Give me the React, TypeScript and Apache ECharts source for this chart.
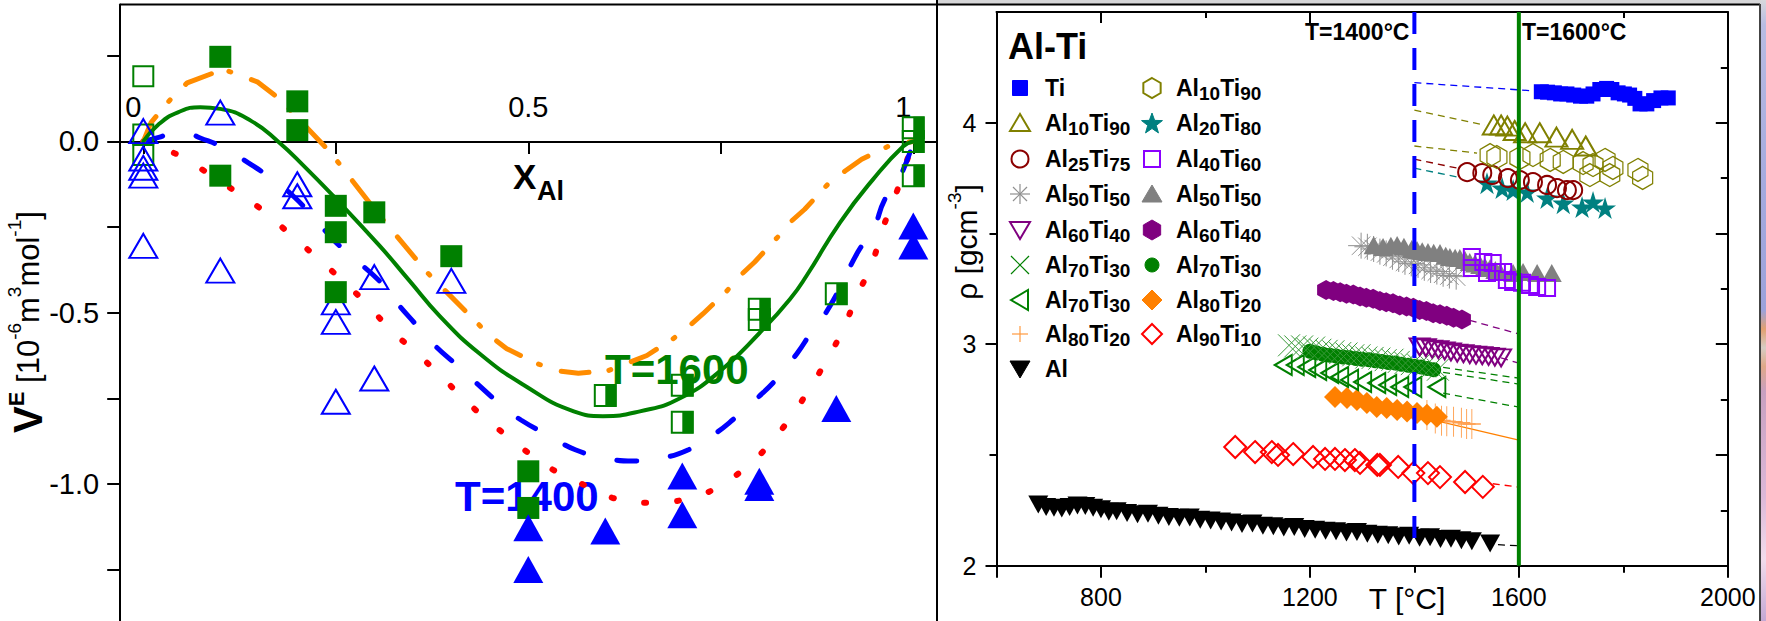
import React, { useEffect, useRef } from "react";
import * as echarts from "echarts";

const FONT = '"Liberation Sans", Arial, Helvetica, sans-serif';

// ================= Left panel: V^E vs X_Al =================
const leftXTicks = [0, 0.25, 0.5, 0.75, 1];
const leftXLabels = [0, 0.5, 1];
const leftYTicks = [0.25, 0, -0.25, -0.5, -0.75, -1, -1.25];
const leftYLabels = [0, -0.5, -1];

const calc1600DashDot = [[0,0],[0.01,0.055],[0.037,0.127],[0.057,0.171],[0.096,0.204],[0.1,0.214],[0.148,0.174],[0.178,0.122],[0.243,-0.032],[0.303,-0.206],[0.368,-0.381],[0.428,-0.517],[0.45,-0.567],[0.472,-0.605],[0.511,-0.648],[0.535,-0.669],[0.565,-0.677],[0.604,-0.669],[0.628,-0.648],[0.654,-0.625],[0.688,-0.576],[0.708,-0.541],[0.727,-0.503],[0.758,-0.436],[0.775,-0.392],[0.794,-0.352],[0.824,-0.279],[0.84,-0.236],[0.859,-0.198],[0.889,-0.125],[0.911,-0.087],[0.933,-0.052],[0.972,-0.009],[1,0]];
const calc1600Solid = [[0,0],[0.02,0.05],[0.045,0.085],[0.074,0.1],[0.1,0.095],[0.14,0.06],[0.175,0],[0.21,-0.075],[0.247,-0.16],[0.307,-0.305],[0.345,-0.405],[0.385,-0.51],[0.437,-0.62],[0.494,-0.711],[0.559,-0.788],[0.597,-0.802],[0.645,-0.788],[0.697,-0.75],[0.753,-0.663],[0.8,-0.56],[0.84,-0.46],[0.862,-0.39],[0.905,-0.236],[0.948,-0.11],[0.987,-0.014],[1,0]];
const calc1400Dashed = [[0,0],[0.02,0.012],[0.035,0.02],[0.06,0.02],[0.074,0.01],[0.104,-0.018],[0.136,-0.062],[0.165,-0.106],[0.195,-0.16],[0.22,-0.22],[0.25,-0.294],[0.272,-0.338],[0.31,-0.415],[0.327,-0.465],[0.353,-0.532],[0.376,-0.59],[0.407,-0.653],[0.433,-0.706],[0.465,-0.77],[0.491,-0.814],[0.528,-0.86],[0.561,-0.9],[0.6,-0.924],[0.636,-0.933],[0.674,-0.924],[0.708,-0.9],[0.74,-0.857],[0.768,-0.808],[0.797,-0.75],[0.823,-0.692],[0.849,-0.619],[0.868,-0.555],[0.892,-0.48],[0.928,-0.323],[0.948,-0.256],[0.963,-0.169],[0.983,-0.102],[1,0]];
const calc1400Dotted = [[0,0],[0.011,-0.014],[0.044,-0.038],[0.08,-0.087],[0.119,-0.145],[0.156,-0.203],[0.19,-0.27],[0.223,-0.334],[0.256,-0.401],[0.29,-0.474],[0.32,-0.547],[0.353,-0.614],[0.387,-0.686],[0.42,-0.76],[0.455,-0.828],[0.489,-0.89],[0.528,-0.953],[0.567,-0.997],[0.61,-1.041],[0.656,-1.055],[0.7,-1.047],[0.74,-1.017],[0.777,-0.962],[0.807,-0.9],[0.837,-0.817],[0.863,-0.73],[0.887,-0.64],[0.908,-0.552],[0.926,-0.455],[0.946,-0.358],[0.96,-0.256],[0.976,-0.163],[0.991,-0.061],[1,0]];

const exp1600Filled = [[0.1,0.247],[0.1,-0.1],[0.2,0.117],[0.2,0.033],[0.25,-0.188],[0.25,-0.265],[0.25,-0.44],[0.3,-0.207],[0.4,-0.335],[0.5,-0.963],[0.5,-1.07]];
const exp1600Half = [[0.6,-0.742],[0.7,-0.712],[0.7,-0.82],[0.8,-0.49],[0.8,-0.52],[0.9,-0.445],[1,0.04],[1,0.0],[1,-0.1]];
const exp1600Open = [[0,0.19],[0,0.02],[0,-0.04]];
const exp1400Open = [[0,0.03],[0,-0.05],[0,-0.077],[0,-0.1],[0,-0.305],[0.1,0.084],[0.1,-0.377],[0.2,-0.125],[0.2,-0.16],[0.25,-0.47],[0.25,-0.527],[0.25,-0.76],[0.3,-0.396],[0.3,-0.692],[0.4,-0.407]];
const exp1400Filled = [[0.5,-1.128],[0.5,-1.25],[0.6,-1.137],[0.7,-0.977],[0.7,-1.09],[0.8,-0.992],[0.8,-1.01],[0.9,-0.78],[1,-0.247],[1,-0.305]];

// ================= Right panel: density vs T =================
const rightXTickMajor = [600, 800, 1200, 1600, 2000];
const rightXLabels = [800, 1200, 1600, 2000];
const rightXTickMinor = [1000, 1400, 1800];
const rightYTickMajor = [2, 3, 4];
const rightYTickMinor = [2.5, 3.5];
const rightYTickRightMajor = [2, 2.5, 3, 3.5, 4, 4.5];
const rightYTickRightMinor = [2.25, 2.75, 3.25, 3.75, 4.25];

const tiData = [[1643,4.14],[1655,4.138],[1668,4.135],[1680,4.13],[1692,4.13],[1705,4.125],[1718,4.12],[1730,4.12],[1742,4.13],[1755,4.15],[1768,4.155],[1778,4.15],[1790,4.135],[1802,4.13],[1812,4.125],[1822,4.11],[1832,4.085],[1845,4.085],[1858,4.1],[1872,4.112],[1886,4.112]];
const al10ti90Tri = [[1552,3.99],[1566,3.99],[1578,3.985],[1592,3.965],[1612,3.955],[1640,3.955],[1672,3.935],[1702,3.925],[1728,3.895]];
const al10ti90Hex = [[1545,3.854],[1558,3.845],[1602,3.841],[1627,3.854],[1660,3.832],[1685,3.823],[1723,3.818],[1736,3.764],[1742,3.809],[1765,3.832],[1774,3.764],[1780,3.796],[1828,3.787],[1837,3.751]];
const al25ti75 = [[1501,3.777],[1530,3.773],[1549,3.764],[1579,3.75],[1602,3.741],[1627,3.732],[1654,3.719],[1673,3.705],[1692,3.696],[1704,3.696]];
const al20ti80 = [[1539,3.727],[1568,3.705],[1589,3.696],[1616,3.687],[1654,3.66],[1685,3.637],[1721,3.619],[1742,3.642],[1765,3.615]];
const al50ti50Ast = [[1298,3.445],[1310,3.44],[1322,3.43],[1334,3.418],[1346,3.41],[1358,3.395],[1370,3.385],[1382,3.372],[1394,3.365],[1407,3.358],[1419,3.345],[1431,3.335],[1443,3.328],[1455,3.318],[1467,3.31],[1480,3.305]];
const al50ti50Tri = [[1322,3.447],[1340,3.439],[1355,3.445],[1367,3.448],[1380,3.44],[1395,3.43],[1405,3.425],[1415,3.42],[1426,3.416],[1437,3.413],[1449,3.412],[1460,3.4],[1468,3.394],[1478,3.39],[1487,3.389],[1497,3.38],[1506,3.371],[1516,3.365],[1526,3.358],[1535,3.35],[1545,3.344],[1555,3.335],[1564,3.326],[1589,3.321],[1608,3.326],[1635,3.321],[1663,3.321]];
const al40ti60 = [[1510,3.394],[1510,3.344],[1532,3.371],[1539,3.321],[1550,3.367],[1558,3.326],[1570,3.326],[1577,3.29],[1589,3.281],[1606,3.277],[1621,3.267],[1635,3.258],[1654,3.254]];
const al60ti40Hex = [[1231,3.245],[1245,3.24],[1258,3.235],[1270,3.228],[1283,3.225],[1296,3.215],[1308,3.21],[1321,3.205],[1334,3.195],[1346,3.19],[1359,3.185],[1372,3.175],[1385,3.17],[1398,3.165],[1410,3.155],[1423,3.15],[1436,3.14],[1449,3.135],[1462,3.128],[1475,3.12],[1491,3.112]];
const al60ti40Tri = [[1410,2.988],[1422,2.984],[1434,2.978],[1446,2.975],[1458,2.97],[1470,2.965],[1482,2.96],[1494,2.957],[1506,2.953],[1518,2.95],[1530,2.948],[1542,2.945],[1554,2.942],[1566,2.938]];
const al70ti30X = [[1160,2.995],[1172,2.99],[1185,2.99],[1195,2.98],[1208,2.985],[1220,2.975],[1232,2.97],[1245,2.968],[1258,2.96],[1270,2.958],[1283,2.95],[1295,2.95],[1308,2.94],[1320,2.938],[1333,2.935],[1345,2.928],[1358,2.93],[1370,2.92],[1383,2.915],[1395,2.91],[1408,2.905],[1420,2.9],[1433,2.895],[1445,2.885]];
const al70ti30Circ = [[1200,2.968],[1212,2.962],[1225,2.955],[1238,2.95],[1250,2.947],[1263,2.942],[1275,2.94],[1288,2.935],[1300,2.932],[1313,2.93],[1325,2.925],[1338,2.922],[1350,2.918],[1363,2.915],[1375,2.91],[1388,2.905],[1400,2.9],[1413,2.897],[1425,2.89],[1437,2.885]];
const al70ti30Left = [[1149,2.906],[1172,2.906],[1194,2.897],[1215,2.884],[1238,2.87],[1257,2.852],[1276,2.839],[1301,2.829],[1328,2.825],[1349,2.816],[1372,2.807],[1397,2.807],[1443,2.807]];
const al80ti20Dia = [[1248,2.762],[1271,2.757],[1290,2.748],[1309,2.735],[1328,2.717],[1347,2.712],[1367,2.703],[1386,2.696],[1405,2.69],[1424,2.681],[1443,2.672]];
const al80ti20Plus = [[1424,2.68],[1440,2.665],[1452,2.655],[1462,2.652],[1475,2.65],[1490,2.645],[1500,2.64],[1510,2.64]];
const al90ti10 = [[1057,2.536],[1095,2.513],[1127,2.513],[1139,2.5],[1168,2.504],[1206,2.491],[1229,2.482],[1248,2.482],[1267,2.477],[1286,2.477],[1296,2.464],[1329,2.455],[1334,2.455],[1369,2.446],[1398,2.418],[1426,2.418],[1449,2.4],[1497,2.378],[1531,2.356]];
const alPure = [[680,2.276],[695,2.265],[710,2.262],[725,2.258],[740,2.265],[755,2.272],[770,2.27],[785,2.262],[800,2.255],[815,2.244],[830,2.246],[850,2.238],[870,2.232],[890,2.235],[910,2.226],[930,2.22],[950,2.216],[970,2.218],[990,2.208],[1010,2.204],[1030,2.2],[1050,2.195],[1070,2.188],[1090,2.19],[1110,2.18],[1130,2.178],[1150,2.172],[1170,2.175],[1190,2.166],[1210,2.162],[1230,2.158],[1250,2.155],[1270,2.15],[1290,2.152],[1310,2.144],[1330,2.14],[1350,2.137],[1370,2.132],[1390,2.135],[1410,2.126],[1430,2.128],[1450,2.12],[1470,2.122],[1490,2.115],[1510,2.11],[1545,2.1]];

const fitTi = [[1400,4.181],[1621,4.145]];
const fitAl10Tri = [[1400,4.057],[1535,3.989]];
const fitAl10Hex = [[1400,3.895],[1520,3.863]];
const fitAl25 = [[1400,3.836],[1482,3.795]];
const fitAl20 = [[1400,3.795],[1482,3.755]];
const fitAl40 = [[1400,3.433],[1493,3.366]];
const fitAl60Hex = [[1506,3.108],[1600,3.046]];
const fitAl60Tri = [[1566,2.938],[1600,2.915]];
const fitAl70X = [[1455,2.895],[1600,2.847]];
const fitAl70Circ = [[1455,2.873],[1600,2.82]];
const fitAl70Left = [[1455,2.779],[1600,2.716]];
const fitAl80Plus = [[1449,2.65],[1600,2.567]];
const fitAl90 = [[1550,2.37],[1600,2.355]];
const fitAl = [[1560,2.095],[1600,2.09]];
const ref1400 = [[1400,4.5],[1400,2.09]];
const ref1600 = [[1600,4.5],[1600,2.0]];

const legendCol1 = [
  { parts: ["Ti"], kind: "square", color: "#0000FF", filled: true },
  { parts: ["Al", "10", "Ti", "90"], kind: "triUp", color: "#808000", filled: false },
  { parts: ["Al", "25", "Ti", "75"], kind: "circle", color: "#8B0000", filled: false },
  { parts: ["Al", "50", "Ti", "50"], kind: "asterisk", color: "#909090", filled: false },
  { parts: ["Al", "60", "Ti", "40"], kind: "triDown", color: "#800080", filled: false },
  { parts: ["Al", "70", "Ti", "30"], kind: "x", color: "#008000", filled: false },
  { parts: ["Al", "70", "Ti", "30"], kind: "triLeft", color: "#008000", filled: false },
  { parts: ["Al", "80", "Ti", "20"], kind: "plus", color: "#FF9A40", filled: false },
  { parts: ["Al"], kind: "triDown", color: "#000000", filled: true },
];
const legendCol2 = [
  { parts: ["Al", "10", "Ti", "90"], kind: "hex", color: "#808000", filled: false },
  { parts: ["Al", "20", "Ti", "80"], kind: "star", color: "#008080", filled: true },
  { parts: ["Al", "40", "Ti", "60"], kind: "square", color: "#8B00FF", filled: false },
  { parts: ["Al", "50", "Ti", "50"], kind: "triUp", color: "#808080", filled: true },
  { parts: ["Al", "60", "Ti", "40"], kind: "hex", color: "#800080", filled: true },
  { parts: ["Al", "70", "Ti", "30"], kind: "circle", color: "#008000", filled: true },
  { parts: ["Al", "80", "Ti", "20"], kind: "diamond", color: "#FF8000", filled: true },
  { parts: ["Al", "90", "Ti", "10"], kind: "diamond", color: "#FF0000", filled: false },
];

const HEX = "path://M0,-1 L0.866,-0.5 L0.866,0.5 L0,1 L-0.866,0.5 L-0.866,-0.5 Z";
const STAR = "path://M0,-1 L0.2245,-0.309 L0.951,-0.309 L0.363,0.118 L0.588,0.809 L0,0.382 L-0.588,0.809 L-0.363,0.118 L-0.951,-0.309 L-0.2245,-0.309 Z";
const AST = "path://M-1,0 L1,0 M0,-1 L0,1 M-0.707,-0.707 L0.707,0.707 M-0.707,0.707 L0.707,-0.707";
const XSYM = "path://M-1,-1 L1,1 M-1,1 L1,-1";
const PLUS = "path://M-1,0 L1,0 M0,-1 L0,1";

function richParts(parts: string[]) {
  return parts.map((p, i) => (i % 2 === 0 ? `{b|${p}}` : `{s|${p}}`)).join("");
}

function glyph(kind: string, cx: number, cy: number, color: string, filled: boolean): any[] {
  const st = filled ? { fill: color, stroke: color, lineWidth: 1 } : { fill: "none", stroke: color, lineWidth: 2 };
  const thin = { stroke: color, lineWidth: 1.2 };
  const poly = (pts: number[][]) => ({ type: "polygon", shape: { points: pts }, style: st });
  const ln = (x1: number, y1: number, x2: number, y2: number) => ({ type: "line", shape: { x1, y1, x2, y2 }, style: thin });
  switch (kind) {
    case "square":
      return filled
        ? [{ type: "rect", shape: { x: cx - 7.5, y: cy - 7.5, width: 15, height: 15 }, style: st }]
        : [{ type: "rect", shape: { x: cx - 8, y: cy - 8, width: 16, height: 16 }, style: st }];
    case "circle":
      return [{ type: "circle", shape: { cx, cy, r: filled ? 7 : 8.5 }, style: st }];
    case "triUp":
      return [poly([[cx, cy - 9], [cx + 10, cy + 8], [cx - 10, cy + 8]])];
    case "triDown":
      return [poly([[cx - 10, cy - 8], [cx + 10, cy - 8], [cx, cy + 9]])];
    case "triLeft":
      return [poly([[cx - 9, cy], [cx + 8, cy - 10], [cx + 8, cy + 10]])];
    case "diamond":
      return [poly([[cx, cy - 10], [cx + 10, cy], [cx, cy + 10], [cx - 10, cy]])];
    case "hex":
      return [poly([[cx, cy - 10], [cx + 8.66, cy - 5], [cx + 8.66, cy + 5], [cx, cy + 10], [cx - 8.66, cy + 5], [cx - 8.66, cy - 5]])];
    case "star": {
      const pts: number[][] = [];
      for (let k = 0; k < 10; k++) {
        const a = -Math.PI / 2 + (k * Math.PI) / 5;
        const r = k % 2 === 0 ? 11 : 4.5;
        pts.push([cx + r * Math.cos(a), cy + 1 + r * Math.sin(a)]);
      }
      return [poly(pts)];
    }
    case "asterisk":
      return [ln(cx - 10, cy, cx + 10, cy), ln(cx, cy - 10, cx, cy + 10), ln(cx - 7, cy - 7, cx + 7, cy + 7), ln(cx - 7, cy + 7, cx + 7, cy - 7)];
    case "x":
      return [ln(cx - 9, cy - 9, cx + 9, cy + 9), ln(cx - 9, cy + 9, cx + 9, cy - 9)];
    case "plus":
      return [ln(cx - 8, cy, cx + 8, cy), ln(cx, cy - 8, cx, cy + 8)];
  }
  return [];
}

const legendRich = {
  b: { fontSize: 23, fontWeight: "bold", fontFamily: FONT, fill: "#000", lineHeight: 30 },
  s: { fontSize: 19, fontWeight: "bold", fontFamily: FONT, fill: "#000", lineHeight: 19, verticalAlign: "bottom" },
};

function buildGraphic() {
  const g: any[] = [];
  const blk = { stroke: "#000", lineWidth: 2 };
  g.push({ type: "rect", shape: { x: 938, y: 0, width: 828, height: 4 }, style: { fill: "#d6d6d8" }, silent: true });
  g.push({ type: "line", shape: { x1: 120, y1: 4.5, x2: 1760, y2: 4.5 }, style: blk, silent: true });
  g.push({ type: "line", shape: { x1: 937, y1: 0, x2: 937, y2: 621 }, style: blk, silent: true });
  g.push({ type: "line", shape: { x1: 1760, y1: 4, x2: 1760, y2: 621 }, style: { stroke: "#444", lineWidth: 2 }, silent: true });
  g.push({
    type: "rect",
    shape: { x: 1761, y: 0, width: 5, height: 621 },
    style: {
      fill: new echarts.graphic.LinearGradient(0, 0, 0, 1, [
        { offset: 0, color: "#d8d8dc" },
        { offset: 0.04, color: "#b8bce2" },
        { offset: 0.3, color: "#a4aade" },
        { offset: 0.5, color: "#9ca2da" },
        { offset: 0.53, color: "#e2a070" },
        { offset: 0.56, color: "#d6ccc4" },
        { offset: 0.59, color: "#e0a888" },
        { offset: 0.63, color: "#c8a0c0" },
        { offset: 0.8, color: "#dcb8d8" },
        { offset: 0.9, color: "#f2dcec" },
        { offset: 1, color: "#c4a8d4" },
      ]),
    },
    silent: true,
  });

  // left panel texts
  g.push({ type: "text", x: 605, y: 369, style: { text: "T=1600", fontSize: 42, fontWeight: "bold", fontFamily: FONT, fill: "#008000", align: "left", verticalAlign: "middle" } });
  g.push({ type: "text", x: 455, y: 496, style: { text: "T=1400", fontSize: 42, fontWeight: "bold", fontFamily: FONT, fill: "#0000FF", align: "left", verticalAlign: "middle" } });
  g.push({ type: "text", x: 513, y: 176, style: { text: "X", fontSize: 35, fontWeight: "bold", fontFamily: FONT, fill: "#000", align: "left", verticalAlign: "middle" } });
  g.push({ type: "text", x: 537, y: 191, style: { text: "Al", fontSize: 27, fontWeight: "bold", fontFamily: FONT, fill: "#000", align: "left", verticalAlign: "middle" } });
  g.push({
    type: "text",
    x: 28,
    y: 322,
    rotation: Math.PI / 2,
    style: {
      text: "{V|V}{E|E}{n| [10}{p|-6}{n|m}{p|3}{n|mol}{p|-1}{n|]}",
      align: "center",
      verticalAlign: "middle",
      rich: {
        V: { fontSize: 40, fontWeight: "bold", fontFamily: FONT, fill: "#000", lineHeight: 46 },
        E: { fontSize: 22, fontWeight: "bold", fontFamily: FONT, fill: "#000", lineHeight: 24, verticalAlign: "top" },
        n: { fontSize: 31, fontFamily: FONT, fill: "#000", lineHeight: 46 },
        p: { fontSize: 19, fontFamily: FONT, fill: "#000", lineHeight: 22, verticalAlign: "top" },
      },
    },
  });

  // right panel texts
  g.push({ type: "text", x: 1008, y: 46, style: { text: "Al-Ti", fontSize: 36, fontWeight: "bold", fontFamily: FONT, fill: "#000", align: "left", verticalAlign: "middle" } });
  g.push({ type: "text", x: 1305, y: 32, style: { text: "T=1400°C", fontSize: 23, fontWeight: "bold", fontFamily: FONT, fill: "#000", align: "left", verticalAlign: "middle" } });
  g.push({ type: "text", x: 1522, y: 32, style: { text: "T=1600°C", fontSize: 23, fontWeight: "bold", fontFamily: FONT, fill: "#000", align: "left", verticalAlign: "middle" } });
  g.push({ type: "text", x: 1407, y: 598, style: { text: "T [°C]", fontSize: 30, fontFamily: FONT, fill: "#000", align: "center", verticalAlign: "middle" } });
  g.push({
    type: "text",
    x: 966,
    y: 242,
    rotation: Math.PI / 2,
    style: {
      text: "{n|ρ [gcm}{p|-3}{n|]}",
      align: "center",
      verticalAlign: "middle",
      rich: {
        n: { fontSize: 30, fontFamily: FONT, fill: "#000", lineHeight: 42 },
        p: { fontSize: 19, fontFamily: FONT, fill: "#000", lineHeight: 22, verticalAlign: "top" },
      },
    },
  });

  // legend
  const rows = [88, 123, 159, 194, 230, 265, 300, 334, 369];
  legendCol1.forEach((it, i) => {
    g.push(...glyph(it.kind, 1020, rows[i], it.color, it.filled));
    g.push({ type: "text", x: 1045, y: rows[i], style: { text: richParts(it.parts), align: "left", verticalAlign: "middle", rich: legendRich } });
  });
  legendCol2.forEach((it, i) => {
    g.push(...glyph(it.kind, 1152, rows[i], it.color, it.filled));
    g.push({ type: "text", x: 1176, y: rows[i], style: { text: richParts(it.parts), align: "left", verticalAlign: "middle", rich: legendRich } });
  });
  return g;
}

const base = { animation: false, silent: true, emphasis: { disabled: true } };

function lineL(data: number[][], color: string, width: number, type: any, smooth: any) {
  return { ...base, type: "line", xAxisIndex: 0, yAxisIndex: 0, data, symbol: "none", smooth, lineStyle: { color, width, type, cap: "round" }, z: 3 };
}
function scat(ax: number, data: number[][], symbol: string, size: any, color: string, mode: "filled" | "open" | "stroke", bw = 2, extra: any = {}) {
  const itemStyle =
    mode === "filled"
      ? { color, borderWidth: 0, opacity: 1 }
      : { color: "rgba(0,0,0,0)", borderColor: color, borderWidth: bw, opacity: 1 };
  return { ...base, type: "scatter", xAxisIndex: ax, yAxisIndex: ax, data, symbol, symbolSize: size, itemStyle, z: 4, ...extra };
}
function fitR(data: number[][], color: string, solid = false) {
  return { ...base, type: "line", xAxisIndex: 1, yAxisIndex: 1, data, symbol: "none", lineStyle: { color, width: 1.3, type: solid ? "solid" : [7, 5] }, z: 2 };
}

function buildOption() {
  const axisLineBlk = { lineStyle: { color: "#000", width: 2 } };
  const tickBlk = { color: "#000", width: 2 };
  const hiddenX = { axisLine: { show: false, onZero: false }, axisTick: { show: false }, axisLabel: { show: false }, splitLine: { show: false } };
  return {
    animation: false,
    backgroundColor: "#ffffff",
    grid: [
      { left: 120.2, top: 4.4, width: 816.2, height: 619.2, show: false },
      { left: 996.5, top: 12, width: 731.3, height: 553.7, show: false },
      // band from the top of the left panel down to V^E = 0, carrying the X_Al axis
      { left: 120.2, top: 4.4, width: 816.2, height: 137.6, show: false },
    ],
    xAxis: [
      { gridIndex: 0, type: "value", min: -0.03, max: 1.03, position: "bottom", ...hiddenX },
      {
        gridIndex: 1, type: "value", min: 600, max: 2000, position: "bottom",
        axisLine: { show: true, onZero: false, ...axisLineBlk },
        axisTick: { show: true, inside: false, length: 12, customValues: rightXTickMajor, lineStyle: tickBlk },
        axisLabel: { show: true, margin: 19, customValues: rightXLabels, fontSize: 25, color: "#000", fontFamily: FONT, formatter: (v: number) => String(v) },
        splitLine: { show: false },
      },
      {
        gridIndex: 1, type: "value", min: 600, max: 2000, position: "bottom",
        axisLine: { show: false, onZero: false },
        axisTick: { show: true, inside: false, length: 7, customValues: rightXTickMinor, lineStyle: tickBlk },
        axisLabel: { show: false }, splitLine: { show: false },
      },
      {
        gridIndex: 1, type: "value", min: 600, max: 2000, position: "top",
        axisLine: { show: true, onZero: false, ...axisLineBlk },
        axisTick: { show: true, inside: true, length: 11, customValues: rightXTickMajor, lineStyle: tickBlk },
        axisLabel: { show: false }, splitLine: { show: false },
      },
      {
        gridIndex: 1, type: "value", min: 600, max: 2000, position: "top",
        axisLine: { show: false, onZero: false },
        axisTick: { show: true, inside: true, length: 6, customValues: rightXTickMinor, lineStyle: tickBlk },
        axisLabel: { show: false }, splitLine: { show: false },
      },
      {
        gridIndex: 2, type: "value", min: -0.03, max: 1.03, position: "bottom",
        axisLine: { show: true, onZero: false, ...axisLineBlk },
        axisTick: { show: true, inside: false, length: 12, customValues: leftXTicks, lineStyle: tickBlk },
        axisLabel: {
          show: true, inside: true, margin: 21, customValues: leftXLabels, fontSize: 29, color: "#000", fontFamily: FONT,
          formatter: (v: number) => (v === 0 ? "{l|0}" : v === 1 ? "{l|1}" : String(v)),
          rich: { l: { fontSize: 29, color: "#000", fontFamily: FONT, padding: [0, 20, 0, 0] } },
        },
        splitLine: { show: false },
      },
    ],
    yAxis: [
      {
        gridIndex: 0, type: "value", min: -1.4, max: 0.4, position: "left",
        axisLine: { show: true, onZero: false, ...axisLineBlk },
        axisTick: { show: true, inside: false, length: 13, customValues: leftYTicks, lineStyle: tickBlk },
        axisLabel: { show: true, margin: 21, customValues: leftYLabels, fontSize: 29, color: "#000", fontFamily: FONT, formatter: (v: number) => v.toFixed(1) },
        splitLine: { show: false },
      },
      {
        gridIndex: 1, type: "value", min: 2, max: 4.5, position: "left",
        axisLine: { show: true, onZero: false, ...axisLineBlk },
        axisTick: { show: true, inside: false, length: 11, customValues: rightYTickMajor, lineStyle: tickBlk },
        axisLabel: { show: true, margin: 20, customValues: rightYTickMajor, fontSize: 25, color: "#000", fontFamily: FONT },
        splitLine: { show: false },
      },
      {
        gridIndex: 1, type: "value", min: 2, max: 4.5, position: "left",
        axisLine: { show: false, onZero: false },
        axisTick: { show: true, inside: false, length: 7, customValues: rightYTickMinor, lineStyle: tickBlk },
        axisLabel: { show: false }, splitLine: { show: false },
      },
      {
        gridIndex: 1, type: "value", min: 2, max: 4.5, position: "right",
        axisLine: { show: true, onZero: false, ...axisLineBlk },
        axisTick: { show: true, inside: true, length: 12, customValues: rightYTickRightMajor, lineStyle: tickBlk },
        axisLabel: { show: false }, splitLine: { show: false },
      },
      {
        gridIndex: 1, type: "value", min: 2, max: 4.5, position: "right",
        axisLine: { show: false, onZero: false },
        axisTick: { show: true, inside: true, length: 7, customValues: rightYTickRightMinor, lineStyle: tickBlk },
        axisLabel: { show: false }, splitLine: { show: false },
      },
      { gridIndex: 2, type: "value", min: 0, max: 0.4, show: false },
    ],
    series: [
      // ---- left panel ----
      lineL(calc1400Dotted, "#FF0000", 6, [2, 31], true),
      lineL(calc1400Dashed, "#0000FF", 5, [20, 34], true),
      lineL(calc1600DashDot, "#FF8C00", 5, [28, 20, 2, 22], false),
      lineL(calc1600Solid, "#008000", 4, "solid", true),
      scat(0, exp1600Open, "rect", 20, "#008000", "open", 2),
      scat(0, exp1400Open, "triangle", [28, 24], "#0000FF", "open", 2),
      scat(0, exp1600Filled, "rect", 22, "#008000", "filled"),
      scat(0, exp1600Half, "rect", 21, "#008000", "open", 2),
      scat(0, exp1600Half, "rect", [11, 22], "#008000", "filled", 0, { symbolOffset: [5.5, 0] }),
      scat(0, exp1400Filled, "triangle", [30, 27], "#0000FF", "filled"),
      // ---- right panel ----
      fitR(fitTi, "#0000FF"),
      fitR(fitAl10Tri, "#808000"),
      fitR(fitAl10Hex, "#808000"),
      fitR(fitAl25, "#8B0000"),
      fitR(fitAl20, "#008080"),
      fitR(fitAl40, "#8B00FF"),
      fitR(fitAl60Hex, "#800080"),
      fitR(fitAl60Tri, "#800080"),
      fitR(fitAl70X, "#008000"),
      fitR(fitAl70Circ, "#008000"),
      fitR(fitAl70Left, "#008000"),
      fitR(fitAl80Plus, "#FF8000", true),
      fitR(fitAl90, "#FF0000"),
      fitR(fitAl, "#000000"),
      scat(1, alPure, "triangle", [20, 18], "#000000", "filled", 0, { symbolRotate: 180 }),
      scat(1, al90ti10, "diamond", [22, 22], "#FF0000", "open", 2),
      scat(1, al80ti20Plus, PLUS, [18, 30], "#FFA050", "stroke", 1.2),
      scat(1, al80ti20Dia, "diamond", [22, 22], "#FF8000", "filled"),
      scat(1, al70ti30Left, "triangle", [20, 17], "#008000", "open", 2, { symbolRotate: 90 }),
      scat(1, al70ti30Circ, "circle", 15, "#008000", "filled"),
      scat(1, al70ti30X, XSYM, 22, "#3a9a3a", "stroke", 1),
      scat(1, al60ti40Tri, "triangle", [20, 17], "#800080", "open", 2, { symbolRotate: 180 }),
      scat(1, al60ti40Hex, HEX, [18, 20], "#800080", "filled"),
      scat(1, al50ti50Ast, AST, 26, "#909090", "stroke", 1),
      scat(1, al50ti50Tri, "triangle", [20, 18], "#808080", "filled"),
      scat(1, al40ti60, "rect", 16, "#8B00FF", "open", 2),
      scat(1, al20ti80, STAR, 22, "#008080", "filled"),
      scat(1, al25ti75, "circle", 18, "#8B0000", "open", 2),
      scat(1, al10ti90Hex, HEX, [20, 23], "#808000", "open", 1.3),
      scat(1, al10ti90Tri, "triangle", [22, 19], "#808000", "open", 2),
      scat(1, tiData, "rect", 15, "#0000FF", "filled"),
      { ...base, type: "line", xAxisIndex: 1, yAxisIndex: 1, data: ref1400, symbol: "none", lineStyle: { color: "#0000FF", width: 4, type: [22, 14] }, z: 6 },
      { ...base, type: "line", xAxisIndex: 1, yAxisIndex: 1, data: ref1600, symbol: "none", lineStyle: { color: "#008000", width: 4, type: "solid" }, z: 6 },
    ],
    graphic: buildGraphic(),
  };
}

export default function App() {
  const ref = useRef<HTMLDivElement>(null);
  useEffect(() => {
    const chart = echarts.init(ref.current as HTMLDivElement, null, { renderer: "svg" });
    chart.setOption(buildOption() as any);
    return () => chart.dispose();
  }, []);
  return <div ref={ref} style={{ position: "fixed", left: 0, top: 0, width: 1766, height: 621, background: "#fff" }} />;
}
